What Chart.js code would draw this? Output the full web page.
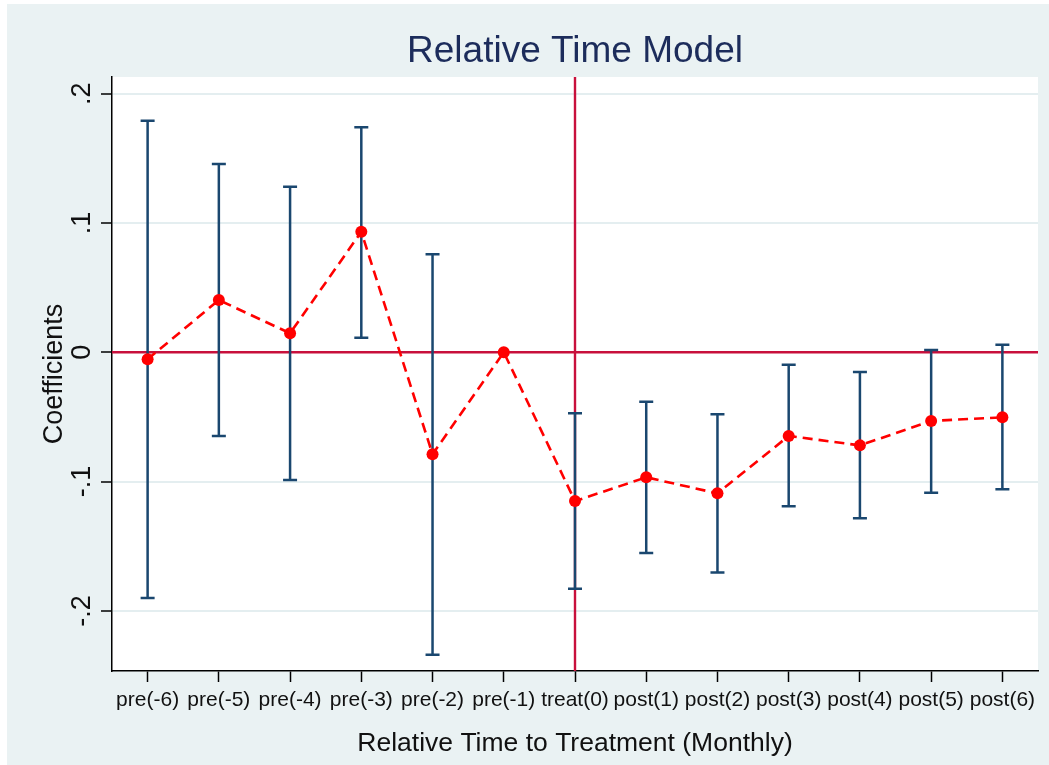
<!DOCTYPE html>
<html>
<head>
<meta charset="utf-8">
<script src="https://cdn.jsdelivr.net/npm/chart.js@4"></script>
<style>
  body { margin: 0; background: #fff; }
  canvas { display: block; }
</style>
</head>
<body>
<canvas id="chart" width="1049" height="765"></canvas>
<script>
// Data
const periods = ['pre(-6)', 'pre(-5)', 'pre(-4)', 'pre(-3)', 'pre(-2)', 'pre(-1)',
  'treat(0)', 'post(1)', 'post(2)', 'post(3)', 'post(4)', 'post(5)', 'post(6)'];
const coef = [-0.0054, 0.0404, 0.0147, 0.0932, -0.0789, 0, -0.1151, -0.0967, -0.1091, -0.0647, -0.0720, -0.0531, -0.0503];
const ciHigh = [0.179, 0.1456, 0.128, 0.174, 0.0758, null, -0.0472, -0.0383, -0.0479, -0.0096, -0.0152, 0.0018, 0.0059];
const ciLow = [-0.190, -0.0648, -0.0988, 0.0113, -0.2340, null, -0.1828, -0.1552, -0.1704, -0.1191, -0.1284, -0.1086, -0.1060];
const yTicks = [-0.2, -0.1, 0, 0.1, 0.2];
const yMin = -0.2465, yMax = 0.2129;
const refPeriod = 'treat(0)';
const refValue = 0;

const FONT = "'Liberation Sans', Arial, Helvetica, sans-serif";
const BG = '#EAF2F3';
const NAVY = '#1A476F';
const CRIMSON = '#C8103C';

function stataLabel(v) {
  if (Math.abs(v) < 1e-9) return '0';
  return v.toFixed(1).replace('0.', '.');
}

// backgrounds: outer light frame, white plot region
const backdrop = {
  id: 'backdrop',
  beforeDraw(chart) {
    const { ctx, chartArea: a } = chart;
    ctx.save();
    ctx.fillStyle = '#fff';
    ctx.fillRect(0, 0, chart.width, chart.height);
    ctx.fillStyle = BG;
    ctx.fillRect(7, 4, chart.width - 7, chart.height - 4);
    ctx.fillStyle = '#fff';
    ctx.fillRect(a.left, a.top, a.right - a.left, a.bottom - a.top);
    ctx.restore();
  }
};

// reference lines and confidence intervals, under the dashed series
const intervals = {
  id: 'intervals',
  beforeDatasetsDraw(chart) {
    const { ctx, chartArea: a, scales: { x, y } } = chart;
    ctx.save();
    ctx.strokeStyle = CRIMSON;
    ctx.lineWidth = 2.4;
    const y0 = y.getPixelForValue(refValue);
    ctx.beginPath();
    ctx.moveTo(a.left, y0);
    ctx.lineTo(a.right, y0);
    ctx.stroke();
    const x0 = x.getPixelForValue(periods.indexOf(refPeriod));
    ctx.beginPath();
    ctx.moveTo(x0, a.top);
    ctx.lineTo(x0, a.bottom);
    ctx.stroke();

    ctx.strokeStyle = NAVY;
    ctx.lineWidth = 2.5;
    periods.forEach((p, i) => {
      if (ciHigh[i] == null) return;
      const px = x.getPixelForValue(i);
      const hi = y.getPixelForValue(ciHigh[i]);
      const lo = y.getPixelForValue(ciLow[i]);
      ctx.beginPath();
      ctx.moveTo(px, hi);
      ctx.lineTo(px, lo);
      ctx.moveTo(px - 7, hi);
      ctx.lineTo(px + 7, hi);
      ctx.moveTo(px - 7, lo);
      ctx.lineTo(px + 7, lo);
      ctx.stroke();
    });
    ctx.restore();
  }
};

// rotated y tick labels, Stata style
const yLabels = {
  id: 'yLabels',
  afterDraw(chart) {
    const { ctx, scales: { y } } = chart;
    ctx.save();
    ctx.fillStyle = '#111';
    ctx.font = '27px ' + FONT;
    ctx.textAlign = 'center';
    ctx.textBaseline = 'alphabetic';
    y.ticks.forEach(t => {
      ctx.save();
      ctx.translate(90, y.getPixelForValue(t.value));
      ctx.rotate(-Math.PI / 2);
      ctx.fillText(stataLabel(t.value), 0, 0);
      ctx.restore();
    });
    ctx.restore();
  }
};

new Chart(document.getElementById('chart'), {
  type: 'line',
  data: {
    labels: periods,
    datasets: [{
      data: coef,
      borderColor: '#FF0000',
      borderWidth: 2.6,
      borderDash: [10, 6],
      tension: 0,
      pointRadius: 6,
      pointBackgroundColor: '#FF0000',
      pointBorderWidth: 0
    }]
  },
  options: {
    responsive: false,
    animation: false,
    layout: { padding: { left: 7, top: 4, right: 11, bottom: 0 } },
    plugins: {
      legend: { display: false },
      tooltip: { enabled: false },
      title: {
        display: true,
        text: 'Relative Time Model',
        fullSize: false,
        color: '#1C2C5B',
        font: { family: FONT, size: 37, weight: 'normal', lineHeight: 1.2 },
        padding: { top: 26, bottom: 2.6 }
      }
    },
    scales: {
      x: {
        type: 'category',
        offset: true,
        afterFit: s => { s.height = 94; },
        grid: { drawOnChartArea: false, drawTicks: true, tickLength: 11, tickColor: '#000', tickWidth: 1.5 },
        border: { display: true, color: '#000', width: 1.5 },
        ticks: {
          autoSkip: false, maxRotation: 0, minRotation: 0, padding: 6,
          color: '#111', font: { family: FONT, size: 21 }
        },
        title: {
          display: true,
          text: 'Relative Time to Treatment (Monthly)',
          color: '#111',
          font: { family: FONT, size: 26.5, lineHeight: 1.2 },
          padding: { top: 0, bottom: 5.5 }
        }
      },
      y: {
        min: yMin,
        max: yMax,
        afterFit: s => { s.width = 105; },
        afterBuildTicks: s => { s.ticks = yTicks.map(v => ({ value: v })); },
        grid: { color: '#E4EEF0', lineWidth: 2, drawTicks: true, tickLength: 11, tickColor: '#000', tickWidth: 1.5 },
        border: { display: true, color: '#000', width: 1.5 },
        ticks: { display: false },
        title: {
          display: true,
          text: 'Coefficients',
          color: '#111',
          font: { family: FONT, size: 27, lineHeight: 1.2 },
          padding: { top: 31, bottom: 0 }
        }
      }
    }
  },
  plugins: [backdrop, intervals, yLabels]
});
</script>
</body>
</html>
